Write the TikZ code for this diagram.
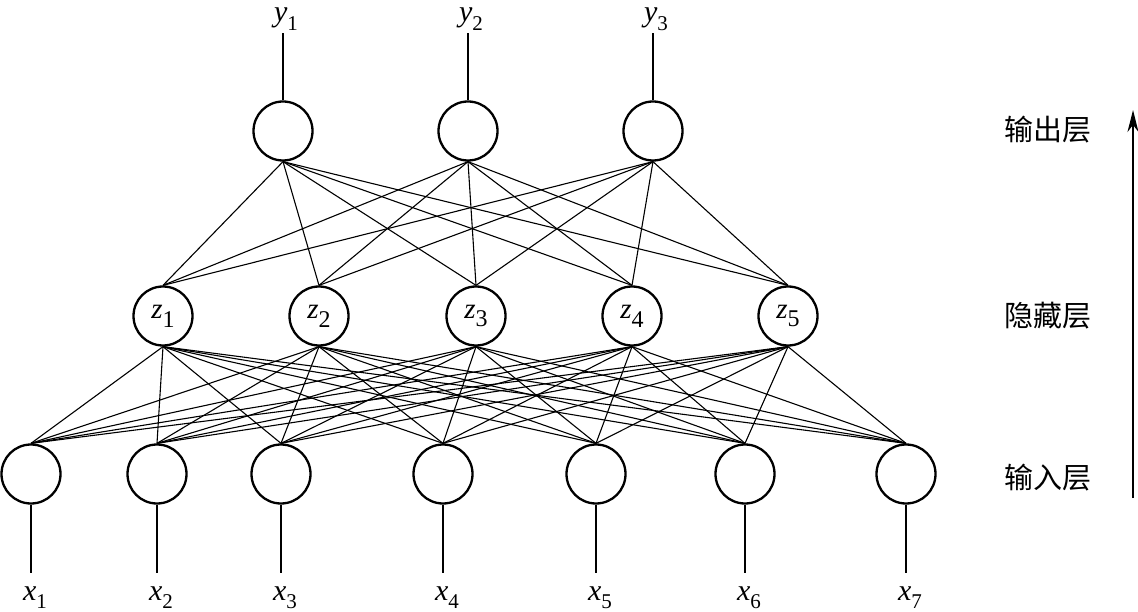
\documentclass[tikz,border=0pt]{standalone}
\usepackage{fontspec}
\setmainfont{Liberation Serif}
\newfontfamily\cjk{Noto Sans CJK SC}
\usetikzlibrary{arrows.meta}
\newcommand\outlab[2]{\fontsize{30}{30}\selectfont\itshape #1\raisebox{-0.28em}{\fontsize{21}{21}\selectfont\upshape #2}}
\newcommand\inlab[2]{\fontsize{29}{29}\selectfont\itshape #1\raisebox{-0.3em}{\fontsize{24}{24}\selectfont\upshape #2}}
\begin{document}
\begin{tikzpicture}[x=1pt,y=-1pt,
  neuron/.style={circle,draw,line width=2.3pt,minimum size=59pt,inner sep=0pt},
  conn/.style={line width=1.1pt},
  stub/.style={line width=1.6pt},
  layerlab/.style={font=\cjk\fontsize{29}{29}\selectfont,inner sep=0pt},
  varlab/.style={inner sep=0pt,anchor=base}]
\useasboundingbox (0,0) rectangle (1138,612);
% output layer
\foreach \i/\x in {1/283,2/468,3/653}{
  \node[neuron] (y\i) at (\x,131) {};
  \coordinate (yt\i) at (\x,33);
  \node[varlab] (yl\i) at (\x+3,22) {\outlab{y}{\i}};
}
% hidden layer
\foreach \i/\x in {1/163,2/319,3/476,4/632,5/788}{
  \node[neuron] (z\i) at (\x,316) {\inlab{z}{\i}};
}
% input layer
\foreach \i/\x in {1/31,2/157,3/281,4/443,5/596,6/745,7/906}{
  \node[neuron] (x\i) at (\x,474) {};
  \coordinate (xb\i) at (\x,573);
  \node[varlab] (xl\i) at (\x+4,600) {\outlab{x}{\i}};
}
% stubs
\foreach \i in {1,2,3}{ \draw[stub] (y\i.north) -- (yt\i); }
\foreach \i in {1,...,7}{ \draw[stub] (x\i.south) -- (xb\i); }
% connections
\foreach \i in {1,2,3}{
  \foreach \j in {1,...,5}{ \draw[conn] (y\i.south) -- (z\j.north); }
}
\foreach \j in {1,...,5}{
  \foreach \k in {1,...,7}{ \draw[conn] (z\j.south) -- (x\k.north); }
}
% layer labels
\node[layerlab] (lo) at (1048,130) {输出层};
\node[layerlab] (lh) at (1048,316) {隐藏层};
\node[layerlab] (li) at (1048,478) {输入层};
\coordinate (abot) at (1133,498);
\coordinate (atop) at (1133,110);
\draw[line width=1.6pt,-{Stealth[length=22pt,width=11pt]}] (abot) -- (atop);
\end{tikzpicture}
\end{document}
